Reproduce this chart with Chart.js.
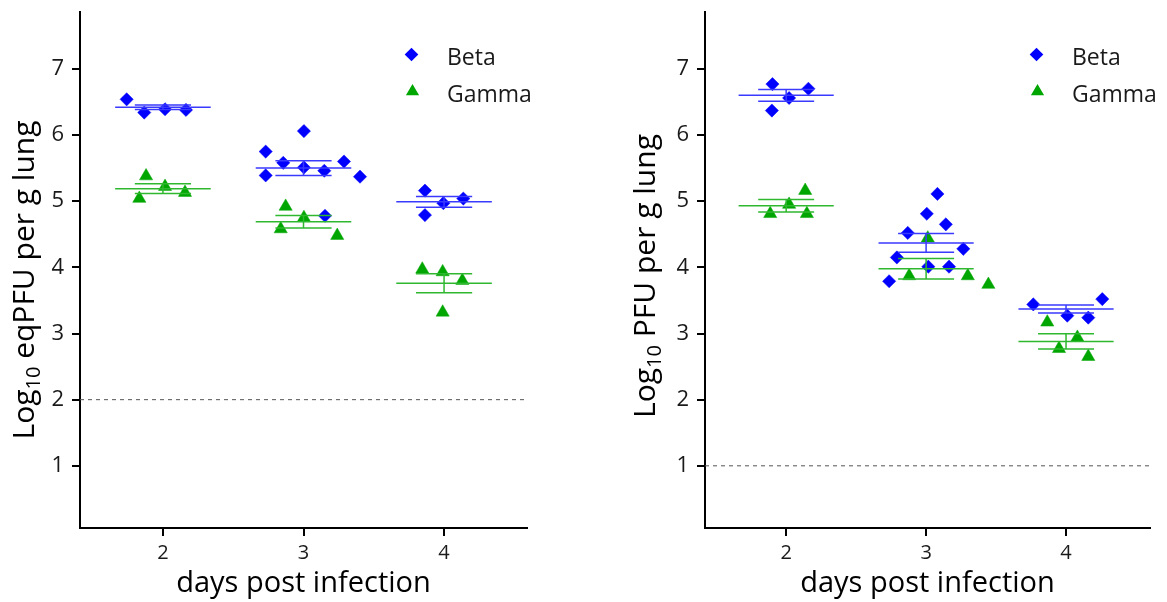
<!DOCTYPE html>
<html>
<head>
<meta charset="utf-8">
<script src="https://cdn.jsdelivr.net/npm/chart.js@4.4.0/dist/chart.umd.min.js"></script>
<style>
    body { margin: 0; background: #fff; width: 1167px; height: 602px; overflow: hidden; position: relative; }
    .pannello { position: absolute; top: 0; height: 602px; }
    #boxSinistra { left: 0; width: 583px; }
    #boxDestra { left: 583px; width: 584px; }
</style>
</head>
<body>
<div class="pannello" id="boxSinistra"><canvas id="canvasSinistra" width="583" height="602"></canvas></div>
<div class="pannello" id="boxDestra"><canvas id="canvasDestra" width="584" height="602"></canvas></div>
<script>
const giorni = [2, 3, 4]
const tickY = [1, 2, 3, 4, 5, 6, 7]

// pannello sinistro: eqPFU
const eqBetaX = [1.742, 1.867, 2.015, 2.164, 3.003, 2.731, 2.856, 3.288, 3.003, 3.148, 2.731, 3.402, 3.153, 3.864, 4.137, 3.995, 3.864]
const eqBetaY = [6.54, 6.34, 6.39, 6.38, 6.06, 5.75, 5.58, 5.60, 5.51, 5.46, 5.39, 5.37, 4.78, 5.16, 5.04, 4.97, 4.79]
const eqGammaX = [1.880, 2.015, 2.157, 1.832, 2.873, 3.003, 2.838, 3.240, 3.845, 3.990, 4.130, 3.990]
const eqGammaY = [5.38, 5.22, 5.13, 5.04, 4.92, 4.75, 4.58, 4.48, 3.97, 3.93, 3.80, 3.32]
const eqBetaMedia = [6.42, 5.50, 4.99]
const eqBetaSE = [0.035, 0.11, 0.08]
const eqGammaMedia = [5.19, 4.69, 3.76]
const eqGammaSE = [0.075, 0.095, 0.145]
const eqLimite = 2

// pannello destro: PFU
const pfuBetaX = [1.902, 2.159, 2.021, 1.898, 3.081, 3.005, 3.141, 2.869, 3.266, 2.791, 3.016, 3.164, 2.736, 3.766, 4.259, 4.009, 4.159]
const pfuBetaY = [6.77, 6.70, 6.56, 6.37, 5.11, 4.81, 4.65, 4.52, 4.28, 4.15, 4.01, 4.01, 3.79, 3.44, 3.52, 3.27, 3.24]
const pfuGammaX = [2.136, 2.021, 1.886, 2.148, 3.012, 2.879, 3.298, 3.445, 3.866, 4.081, 3.950, 4.159]
const pfuGammaY = [5.16, 4.95, 4.81, 4.81, 4.44, 3.87, 3.87, 3.74, 3.17, 2.94, 2.77, 2.65]
const pfuBetaMedia = [6.60, 4.37, 3.37]
const pfuBetaSE = [0.09, 0.14, 0.06]
const pfuGammaMedia = [4.93, 3.98, 2.88]
const pfuGammaSE = [0.095, 0.155, 0.115]
const pfuLimite = 1

const BLU = '#0000ff'
const VERDE = '#00a600'
const FONT = '"Open Sans"'

function punti(xs, ys) {
    return xs.map((x, i) => ({ x: x, y: ys[i] }))
}

// linea della media, barre SE e segmento verticale, separati da null
function segmenti(media, se) {
    let pts = []
    giorni.forEach((g, i) => {
        let m = media[i], s = se[i]
        pts.push({ x: g - 0.34, y: m }, { x: g + 0.34, y: m }, { x: g, y: null })
        pts.push({ x: g - 0.2, y: m + s }, { x: g + 0.2, y: m + s }, { x: g, y: null })
        pts.push({ x: g - 0.2, y: m - s }, { x: g + 0.2, y: m - s }, { x: g, y: null })
        pts.push({ x: g, y: m - s }, { x: g, y: m + s }, { x: g, y: null })
    })
    return pts
}

function rombo(ctx, x, y, r) {
    ctx.beginPath()
    ctx.moveTo(x - r, y)
    ctx.lineTo(x, y - r)
    ctx.lineTo(x + r, y)
    ctx.lineTo(x, y + r)
    ctx.closePath()
    ctx.fill()
}

function triangolo(ctx, x, y, r) {
    ctx.beginPath()
    ctx.moveTo(x, y - r)
    ctx.lineTo(x + 0.866 * r, y + r / 2)
    ctx.lineTo(x - 0.866 * r, y + r / 2)
    ctx.closePath()
    ctx.fill()
}

const titoli = {
    id: 'titoli',
    afterDraw(chart, args, opt) {
        const ctx = chart.ctx
        const area = chart.chartArea
        ctx.save()
        ctx.fillStyle = '#000'
        ctx.textBaseline = 'alphabetic'

        ctx.font = `29px ${FONT}`
        ctx.textAlign = 'center'
        ctx.fillText('days post infection', (area.left + area.right) / 2, 592)

        // legenda
        ctx.textAlign = 'left'
        ctx.font = `23px ${FONT}`
        ctx.fillStyle = BLU
        rombo(ctx, area.left + 331.5, 54.5, 6.8)
        ctx.fillStyle = VERDE
        triangolo(ctx, area.left + 332.5, 91.5, 7.6)
        ctx.fillStyle = '#1a1a1a'
        ctx.fillText('Beta', area.left + 367, 65)
        ctx.fillText('Gamma', area.left + 367, 101.5)

        // titolo asse y con pedice
        ctx.fillStyle = '#000'
        ctx.translate(opt.yTitoloX, opt.yTitoloY)
        ctx.rotate(-Math.PI / 2)
        const grande = `30px ${FONT}`, piccolo = `20px ${FONT}`
        ctx.font = grande
        const w1 = ctx.measureText('Log').width
        const w3 = ctx.measureText(' ' + opt.unita).width
        ctx.font = piccolo
        const w2 = ctx.measureText('10').width
        let x = -(w1 + w2 + w3) / 2
        ctx.font = grande
        ctx.fillText('Log', x, 0)
        ctx.font = piccolo
        ctx.fillText('10', x + w1, 6)
        ctx.font = grande
        ctx.fillText(' ' + opt.unita, x + w1 + w2, 0)
        ctx.restore()
    }
}

function creaGrafico(id, cfg) {
    return new Chart(document.getElementById(id), {
        type: 'scatter',
        data: {
            datasets: [
                {
                    label: 'Beta',
                    data: punti(cfg.betaX, cfg.betaY),
                    pointStyle: 'rectRot',
                    pointRadius: 6.6,
                    backgroundColor: BLU,
                    borderColor: BLU,
                    borderWidth: 0.5,
                    order: 2
                },
                {
                    label: 'Gamma',
                    data: punti(cfg.gammaX, cfg.gammaY),
                    pointStyle: 'triangle',
                    pointRadius: 7.6,
                    backgroundColor: VERDE,
                    borderColor: VERDE,
                    borderWidth: 0.5,
                    order: 2
                },
                {
                    label: 'Beta media',
                    data: segmenti(cfg.betaMedia, cfg.betaSE),
                    showLine: true,
                    spanGaps: false,
                    pointRadius: 0,
                    borderColor: '#3a3aff',
                    borderWidth: 1.5,
                    order: 1
                },
                {
                    label: 'Gamma media',
                    data: segmenti(cfg.gammaMedia, cfg.gammaSE),
                    showLine: true,
                    spanGaps: false,
                    pointRadius: 0,
                    borderColor: '#2fb82f',
                    borderWidth: 1.5,
                    order: 1
                },
                {
                    label: 'limite',
                    data: [{ x: cfg.xMin, y: cfg.limite }, { x: cfg.xMax, y: cfg.limite }],
                    showLine: true,
                    pointRadius: 0,
                    borderColor: '#555',
                    borderWidth: 1,
                    borderDash: [4, 4],
                    order: 3
                }
            ]
        },
        options: {
            responsive: false,
            animation: false,
            layout: { padding: { left: 0, right: cfg.padDestra, top: 12, bottom: 0 } },
            plugins: {
                legend: { display: false },
                tooltip: { enabled: false },
                titoli: { yTitoloX: cfg.yTitoloX, yTitoloY: cfg.yTitoloY, unita: cfg.unita }
            },
            scales: {
                x: {
                    type: 'linear',
                    min: cfg.xMin,
                    max: cfg.xMax,
                    afterBuildTicks: s => { s.ticks = giorni.map(v => ({ value: v })) },
                    afterFit: s => { s.height = 74; s.paddingLeft = 0; s.paddingRight = 0 },
                    grid: { display: true, drawOnChartArea: false, drawTicks: true, tickLength: 8, color: '#000', lineWidth: 2 },
                    border: { display: true, color: '#000', width: 2 },
                    ticks: { font: { family: FONT, size: 20 }, color: '#1a1a1a', padding: 5 }
                },
                y: {
                    type: 'linear',
                    min: 0.06,
                    max: 7.86,
                    afterBuildTicks: s => { s.ticks = tickY.map(v => ({ value: v })) },
                    afterFit: s => { s.width = cfg.larghezzaY; s.paddingTop = 0; s.paddingBottom = 0 },
                    grid: { display: true, drawOnChartArea: false, drawTicks: true, tickLength: 8, color: '#000', lineWidth: 2 },
                    border: { display: true, color: '#000', width: 2 },
                    ticks: { font: { family: FONT, size: 22 }, color: '#1a1a1a', padding: 8 }
                }
            }
        },
        plugins: [titoli]
    })
}

creaGrafico('canvasSinistra', {
    betaX: eqBetaX, betaY: eqBetaY, gammaX: eqGammaX, gammaY: eqGammaY,
    betaMedia: eqBetaMedia, betaSE: eqBetaSE, gammaMedia: eqGammaMedia, gammaSE: eqGammaSE,
    limite: eqLimite, xMin: 1.41, xMax: 4.59,
    padDestra: 56, larghezzaY: 80,
    yTitoloX: 33.5, yTitoloY: 280, unita: 'eqPFU per g lung'
})

creaGrafico('canvasDestra', {
    betaX: pfuBetaX, betaY: pfuBetaY, gammaX: pfuGammaX, gammaY: pfuGammaY,
    betaMedia: pfuBetaMedia, betaSE: pfuBetaSE, gammaMedia: pfuGammaMedia, gammaSE: pfuGammaSE,
    limite: pfuLimite, xMin: 1.42, xMax: 4.6,
    padDestra: 17, larghezzaY: 122,
    yTitoloX: 72, yTitoloY: 276, unita: 'PFU per g lung'
})
</script>
</body>
</html>
